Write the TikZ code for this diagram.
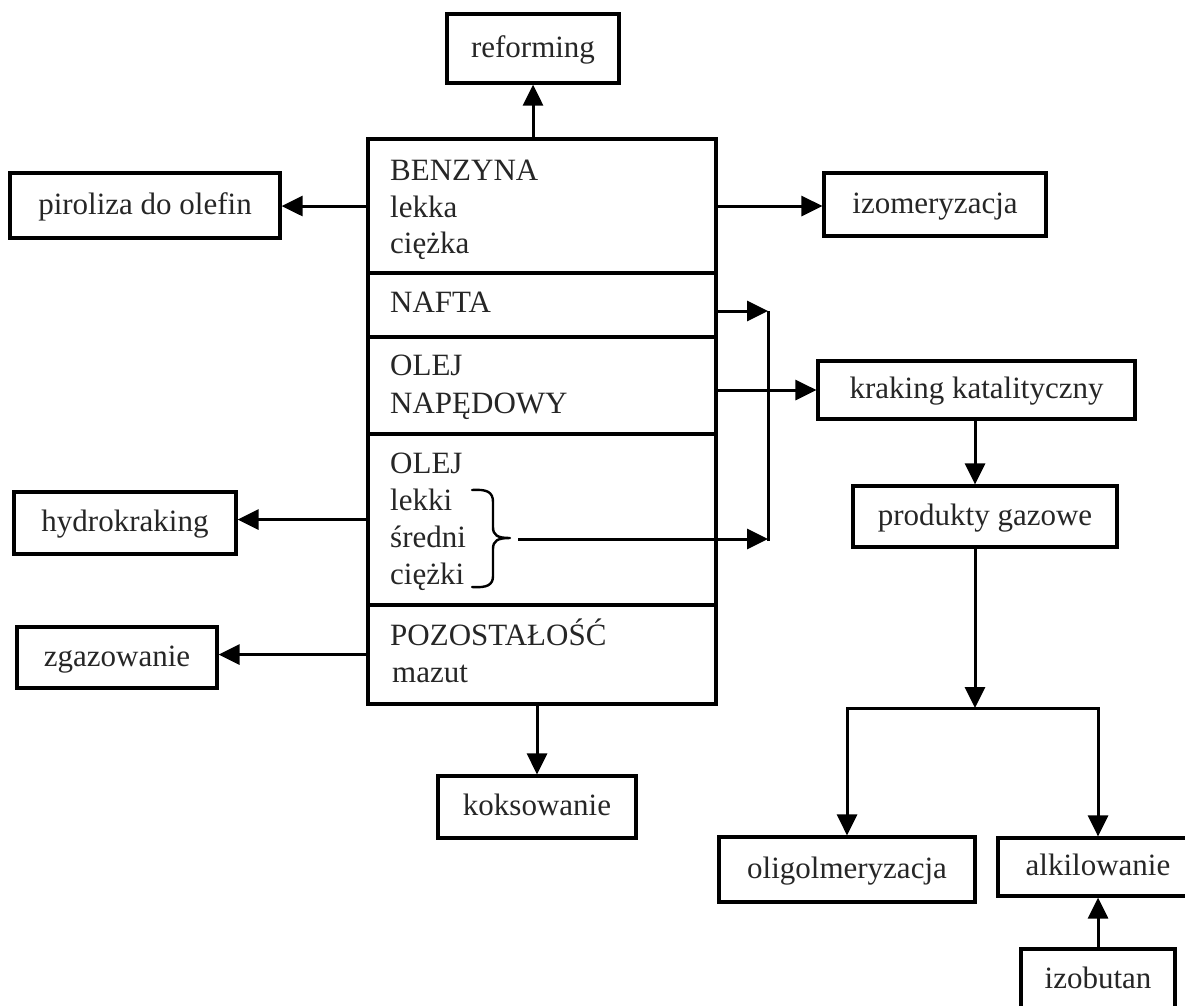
\documentclass[tikz,border=0pt]{standalone}
\usepackage{fontspec}
\setmainfont{Liberation Serif}
\usetikzlibrary{arrows.meta,calc}
\begin{document}
\begin{tikzpicture}[x=1pt,y=-1pt,
  txt/.style={font=\fontsize{31}{37}\selectfont, text=black!85},
  box/.style={draw, line width=3.2pt, inner sep=0pt, txt, text height=23pt, text depth=6pt},
  sec/.style={draw, line width=3.2pt, inner sep=0pt, minimum width=348pt},
  lbl/.style={anchor=base west, inner sep=0pt, txt},
  arr/.style={line width=3pt, -{Triangle[length=21pt,width=20pt]}},
  ln/.style={line width=3pt}]
\useasboundingbox (0,0) rectangle (1185,1005);
\fill[white] (0,0) rectangle (1185,1005);
\clip (0,0) rectangle (1185,1005);

% main column sections
\node[sec, minimum height=134pt] (benz)  at (542,206)   {};
\node[sec, minimum height=64pt]  (nafta) at (542,305)   {};
\node[sec, minimum height=97pt]  (naped) at (542,385.5) {};
\node[sec, minimum height=171pt] (olej)  at (542,519.5) {};
\node[sec, minimum height=99pt]  (pozo)  at (542,654.5) {};

% section texts
\node[lbl] (t1)  at (390,180) {BENZYNA};
\node[lbl] (t2)  at (390,217) {lekka};
\node[lbl] (t3)  at (390,253) {ciężka};
\node[lbl] (t4)  at (390,312) {NAFTA};
\node[lbl] (t5)  at (390,375) {OLEJ};
\node[lbl] (t6)  at (390,413) {NAPĘDOWY};
\node[lbl] (t7)  at (390,473) {OLEJ};
\node[lbl] (t8)  at (390,510) {lekki};
\node[lbl] (t9)  at (390,547) {średni};
\node[lbl] (t10) at (390,584) {ciężki};
\node[lbl] (t11) at (390,645) {POZOSTAŁOŚĆ};
\node[lbl] (t12) at (392,682) {mazut};

% outer boxes
\node[box, minimum width=172pt, minimum height=69pt] (reform) at (533,48.5)  {reforming};
\node[box, minimum width=270pt, minimum height=65pt] (piro)   at (145,205.5) {piroliza do olefin};
\node[box, minimum width=222pt, minimum height=63pt] (izo)    at (935,204.5) {izomeryzacja};
\node[box, minimum width=317pt, minimum height=58pt] (krak)   at (976.5,390) {kraking katalityczny};
\node[box, minimum width=264pt, minimum height=61pt] (prod)   at (985,516.5) {produkty gazowe};
\node[box, minimum width=222pt, minimum height=62pt] (hydro)  at (125,523)   {hydrokraking};
\node[box, minimum width=200pt, minimum height=61pt] (zgaz)   at (117,657.5) {zgazowanie};
\node[box, minimum width=198pt, minimum height=62pt] (koks)   at (537,807)   {koksowanie};
\node[box, minimum width=256pt, minimum height=65pt] (oligo)  at (847,869.5) {oligolmeryzacja};
\node[box, minimum width=200pt, minimum height=58pt] (alkil)  at (1098,867)  {alkilowanie};
\node[box, minimum width=154pt, minimum height=62pt] (izob)   at (1098,980)  {izobutan};

% helper coordinates
\coordinate (bartop) at (768,311);
\coordinate (barbot) at (768,541);
\coordinate (brtip)  at (518,539);
\coordinate (splitx) at (975,0);
\coordinate (split)  at (975,708);

% brace
\draw[line width=2.4pt, line join=round, line cap=round]
  (472,490) .. controls (487,489) and (493,492) .. (493,502)
  -- (493,527) .. controls (493,535) and (497,538) .. (510,538)
  .. controls (497,538) and (493,541) .. (493,549)
  -- (493,576) .. controls (493,585) and (487,588) .. (472,587);

% connectors
\draw[arr] (benz.north -| reform.south) -- (reform.south);
\draw[arr] (benz.west) -- (benz.west -| piro.east);
\draw[arr] (benz.east) -- (benz.east -| izo.west);
\draw[arr] (nafta.east |- bartop) -- (bartop);
\draw[ln] (bartop) -- (barbot);
\draw[arr] (naped.east |- krak.west) -- (krak.west);
\draw[arr] (brtip) -- (brtip -| barbot);
\draw[arr] (olej.west) -- (olej.west -| hydro.east);
\draw[arr] (pozo.west) -- (pozo.west -| zgaz.east);
\draw[arr] (pozo.south -| koks.north) -- (koks.north);
\draw[arr] (krak.south -| splitx) -- (prod.north -| splitx);
\draw[arr] (prod.south -| split) -- (split);
\draw[line width=3pt, {Triangle[length=21pt,width=20pt]}-{Triangle[length=21pt,width=20pt]}]
  (oligo.north) -- (oligo.north |- split) -- (alkil.north |- split) -- (alkil.north);
\draw[arr] (izob.north) -- (alkil.south);
\end{tikzpicture}
\end{document}
